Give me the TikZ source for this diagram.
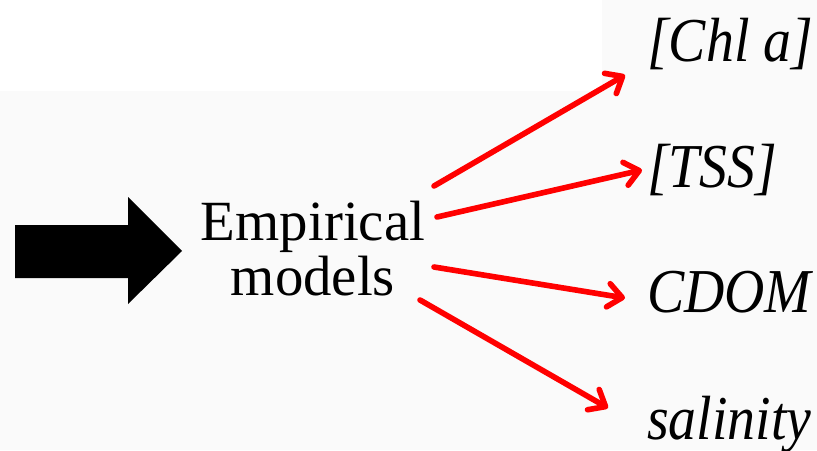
\documentclass[tikz,border=0pt]{standalone}
\usepackage{fontspec}
\setmainfont{Liberation Serif}
\usetikzlibrary{arrows.meta}
\definecolor{fondo}{HTML}{FAFAFA}
\definecolor{rojo}{HTML}{FF0000}
\tikzset{
  salida/.style={anchor=base west, inner sep=0pt, yscale=1.12, transform shape,
    font=\fontsize{47.6pt}{50pt}\selectfont\itshape},
  flecha/.style={rojo, line width=4.8pt, line cap=round,
    -{Straight Barb[length=12pt, width=20pt, line cap=round, round]}}
}
\begin{document}
\begin{tikzpicture}[x=0.03cm, y=-0.03cm]
  % Fondo
  \fill[fondo] (0,0) rectangle (817,450);
  \fill[white] (0,0) rectangle (602,91);
  \useasboundingbox (0,0) rectangle (817,450);

  % Flecha negra
  \fill[black] (15,225) -- (128,225) -- (128,197) -- (182,251) -- (128,304) -- (128,278) -- (15,278) -- cycle;

  % Modelos
  \node[align=center, anchor=base, inner sep=0pt, font=\fontsize{48.5pt}{46.8pt}\selectfont] (modelos) at (313,295) {Empirical\\models};

  % Salidas
  \node[salida] (chl) at (647,62) {[Chl a]};
  \node[salida] (tss) at (647,187) {[TSS]};
  \node[salida] (cdom) at (647,312) {CDOM};
  \node[salida] (sal) at (647,439) {salinity};

  % Flechas rojas
  \draw[flecha] ([shift={(121,-109)}]modelos.base) -- ([shift={(-22,13)}]chl.base west);
  \draw[flecha] ([shift={(124,-78)}]modelos.base) -- ([shift={(-5,-17)}]tss.base west);
  \draw[flecha] ([shift={(121,-28)}]modelos.base) -- ([shift={(-22,-14)}]cdom.base west);
  \draw[flecha] ([shift={(107,5)}]modelos.base) -- ([shift={(-39,-31)}]sal.base west);
\end{tikzpicture}
\end{document}
